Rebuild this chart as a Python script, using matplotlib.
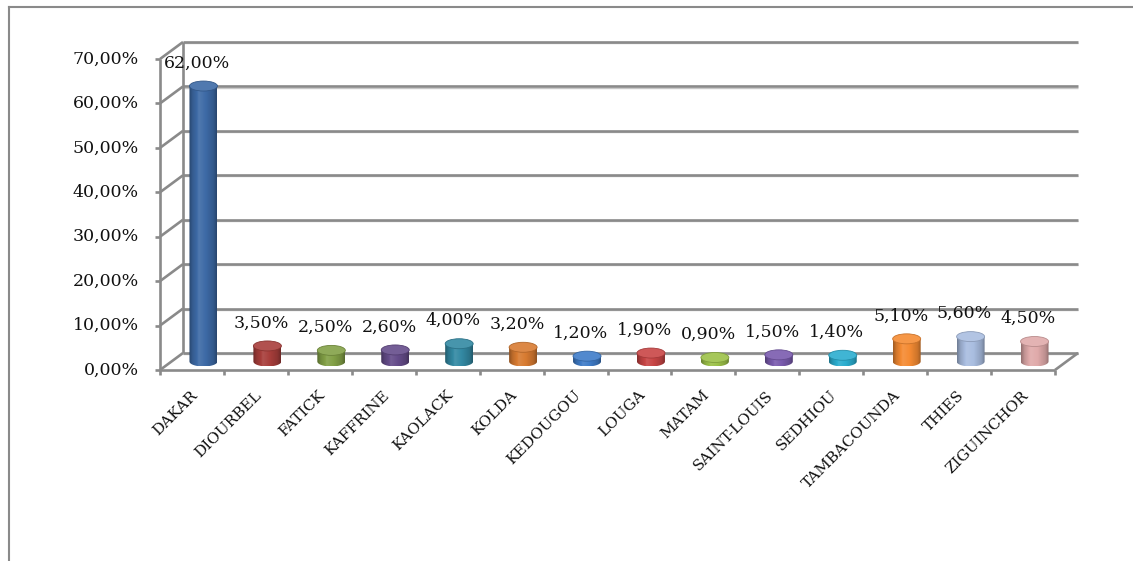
import numpy as np
import matplotlib
matplotlib.use('Agg')
import matplotlib.pyplot as plt
from matplotlib.patches import Ellipse, Polygon
from matplotlib.lines import Line2D
import matplotlib.colors as mcolors

regions = ["DAKAR", "DIOURBEL", "FATICK", "KAFFRINE", "KAOLACK", "KOLDA",
           "KEDOUGOU", "LOUGA", "MATAM", "SAINT-LOUIS", "SEDHIOU",
           "TAMBACOUNDA", "THIES", "ZIGUINCHOR"]
shares = [62.0, 3.5, 2.5, 2.6, 4.0, 3.2, 1.2, 1.9, 0.9, 1.5, 1.4, 5.1, 5.6, 4.5]
bar_colors = ["#3d6aa6", "#a83e3b", "#82a046", "#654c8a", "#3389a3", "#d87b31",
              "#3f7cc8", "#c84545", "#9cc148", "#7a5bae", "#2badcf",
              "#f58b33", "#a9bde0", "#e0aaaa"]
y_ticks = [0, 10, 20, 30, 40, 50, 60, 70]

W, H = 1133, 561
fig = plt.figure(figsize=(W / 100, H / 100), dpi=100)
ax = fig.add_axes([0, 0, 1, 1])
ax.axis('off')

# layout (pixel geometry of the front plane)
px_x0, px_x1 = 160, 1055
px_y0, px_ytop = 370, 59
n = len(regions)
ymax = y_ticks[-1]
sx = (px_x1 - px_x0) / n
sy = (px_y0 - px_ytop) / ymax
DX, DY = 23 / sx, 17 / sy

grid_c = '#8a8a8a'
GLW = 1.9

def line(xs, ys, z=1, c=grid_c, lw=GLW):
    ax.plot(xs, ys, color=c, lw=lw, solid_capstyle='butt', zorder=z)

# back wall gridlines and left wall
for v in y_ticks:
    line([DX, n + DX], [v + DY - 1.2 / sy] * 2, c='#c8c8c8', lw=1.0)
    line([DX, n + DX], [v + DY] * 2)
    line([0, DX], [v, v + DY])
    line([-5 / sx, 0], [v, v])
    ax.text(-21 / sx, v, f"{v:.2f}%".replace('.', ','), ha='right', va='center',
            fontsize=12.5, family='DejaVu Serif', color='#111111')
line([DX, DX], [DY, ymax + DY])
line([0, 0], [0, ymax], z=6)
# floor
line([0, n], [0, 0], z=6)
line([n, n + DX], [0, DY], z=6)
for k in range(n + 1):
    line([k, k], [0, -5 / sy], z=6)

# cylinders
w = 28 / sx
eh = 10 / sy
base = DY / 2
tt = np.linspace(0, 1, 64)
fac = np.interp(tt, [0, 0.12, 0.35, 0.6, 0.88, 1], [0.66, 0.86, 1.05, 1.0, 0.84, 0.66])

def shade(rgb, f):
    rgb = np.array(rgb)
    if f <= 1:
        return rgb * f
    return rgb + (1 - rgb) * (f - 1) * 2.0

for i, (v, c) in enumerate(zip(shares, bar_colors)):
    cx = i + 0.5 + DX / 2
    top = base + v
    rgb = mcolors.to_rgb(c)
    grad = np.array([[shade(rgb, f) for f in fac]])
    grad = np.clip(grad, 0, 1)
    t = np.linspace(np.pi, 2 * np.pi, 40)
    arc = np.column_stack([cx + w / 2 * np.cos(t), base + eh / 2 * np.sin(t)])
    verts = np.vstack([[cx - w / 2, top], arc, [cx + w / 2, top]])
    body = Polygon(verts, closed=True, facecolor='none', edgecolor='none', zorder=3)
    ax.add_patch(body)
    im = ax.imshow(grad, extent=[cx - w / 2, cx + w / 2, base - eh / 2, top],
                   aspect='auto', interpolation='bilinear', zorder=3)
    im.set_clip_path(body)
    ax.add_patch(Ellipse((cx, top), w, eh, facecolor=shade(rgb, 1.05),
                         edgecolor=shade(rgb, 0.82), lw=0.6, zorder=4))
    ax.text(cx - 6 / sx, top + 23 / sy, f"{v:.2f}%".replace('.', ','),
            ha='center', va='center', fontsize=12.5, family='DejaVu Serif',
            color='#111111', zorder=7)
    ax.text(i + 0.55, -23 / sy, regions[i], rotation=45, rotation_mode='anchor',
            ha='right', va='center', fontsize=11, family='DejaVu Serif',
            color='#111111')

ax.set_xlim(-px_x0 / sx, (W - px_x0) / sx)
ax.set_ylim(-(H - px_y0) / sy, px_y0 / sy)

# outer frame
fig.add_artist(Line2D([9 / W, 9 / W], [0, 1 - 7 / H], transform=fig.transFigure,
                      color='#8a8a8a', lw=1.5))
fig.add_artist(Line2D([9 / W, 1], [1 - 7 / H, 1 - 7 / H], transform=fig.transFigure,
                      color='#8a8a8a', lw=1.5))

fig.savefig('out.png', dpi=100)
